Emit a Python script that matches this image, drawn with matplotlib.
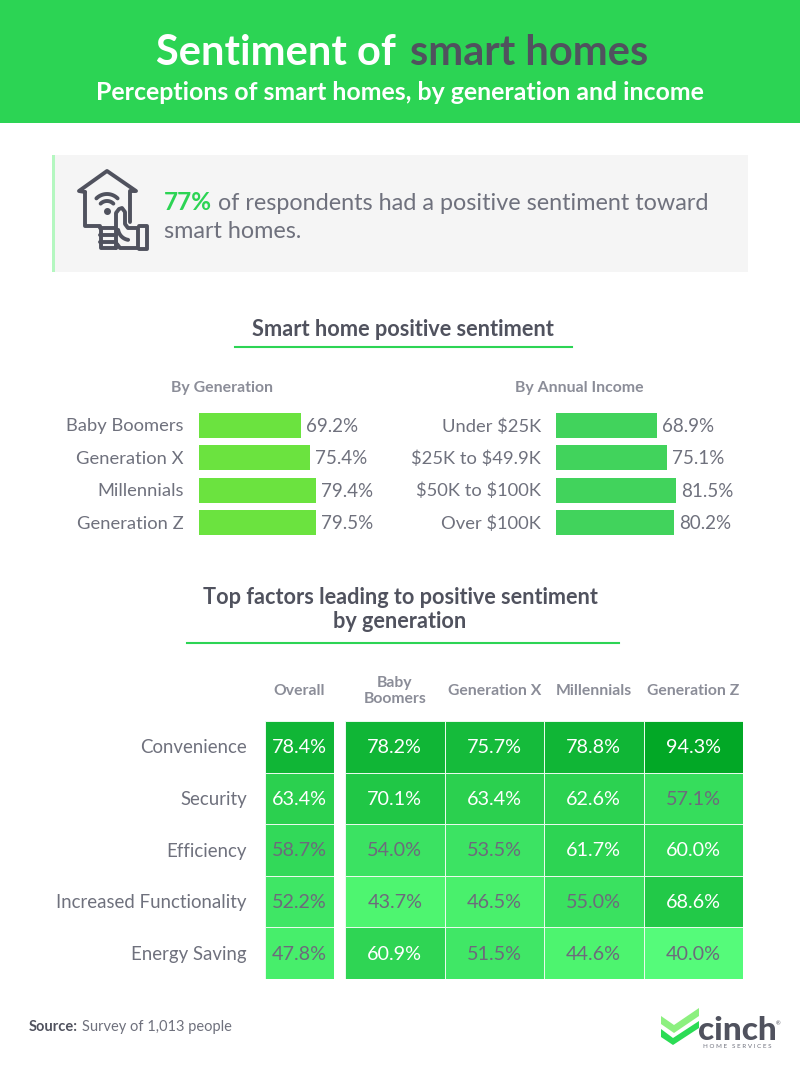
import matplotlib
matplotlib.use('Agg')
import matplotlib.pyplot as plt
from matplotlib.colors import LinearSegmentedColormap
from matplotlib.patches import Rectangle, Polygon
import numpy as np

plt.rcParams['font.family'] = ['Lato', 'DejaVu Sans']
plt.rcParams['text.parse_math'] = False

W, H = 800, 1070
GREEN = '#2cd454'
DARK = '#50525e'
GRAY = '#6f717d'
HEAD = '#8b8d98'

gen_labels = ['Baby Boomers', 'Generation X', 'Millennials', 'Generation Z']
gen_values = [69.2, 75.4, 79.4, 79.5]
inc_labels = ['Under $25K', '$25K to $49.9K', '$50K to $100K', 'Over $100K']
inc_values = [68.9, 75.1, 81.5, 80.2]

factors = ['Convenience', 'Security', 'Efficiency', 'Increased Functionality', 'Energy Saving']
overall = [78.4, 63.4, 58.7, 52.2, 47.8]
boomers = [78.2, 70.1, 54.0, 43.7, 60.9]
gen_x = [75.7, 63.4, 53.5, 46.5, 51.5]
millennials = [78.8, 62.6, 61.7, 55.0, 44.6]
gen_z = [94.3, 57.1, 60.0, 68.6, 40.0]
col_heads = ['Baby\nBoomers', 'Generation X', 'Millennials', 'Generation Z']

heat = LinearSegmentedColormap.from_list('heat', [
    (0.0, '#55fb7a'), (0.07, '#4ef570'), (0.26, '#3be262'), (0.38, '#2fd655'),
    (0.43, '#2bd04f'), (0.56, '#1fc645'), (0.71, '#10b636'), (1.0, '#02a826')])


def px_axes(x0, y0, x1, y1):
    return fig.add_axes([x0 / W, 1 - y1 / H, (x1 - x0) / W, (y1 - y0) / H])


fig = plt.figure(figsize=(8, 10.7), dpi=100)

# page background, pixel coords
bg = px_axes(0, 0, W, H)
bg.set_xlim(0, W)
bg.set_ylim(H, 0)
bg.axis('off')

bg.add_patch(Rectangle((0, 0), W, 123, color=GREEN, lw=0))
t1 = bg.text(156, 53, 'Sentiment of', color='white', fontsize=30, fontweight='bold', va='center')
fig.canvas.draw()
ext = t1.get_window_extent()
bg.text(ext.x1 + 14, 53, 'smart homes', color=DARK, fontsize=30, fontweight='bold', va='center')
bg.text(400, 92, 'Perceptions of smart homes, by generation and income', color='white',
        fontsize=17.9, fontweight='bold', ha='center', va='center')

# callout box
bg.add_patch(Rectangle((52, 155), 696, 117, color='#f5f5f5', lw=0))
bg.add_patch(Rectangle((52, 155), 3, 117, color='#b4f7c0', lw=0))
t2 = bg.text(164, 203, '77%', color=GREEN, fontsize=17.5, fontweight='bold', va='center')
fig.canvas.draw()
bg.text(t2.get_window_extent().x1 + 6, 203, 'of respondents had a positive sentiment toward',
        color=GRAY, fontsize=16.8, va='center')
bg.text(164, 232, 'smart homes.', color=GRAY, fontsize=16.8, va='center')

# icon: house, wifi, thumb
ic = dict(color=DARK, lw=2.8, solid_capstyle='round', solid_joinstyle='round')
bg.plot([85, 79, 107, 136, 130, 130], [192, 191, 171, 191, 191, 222], **ic)
bg.plot([85, 85, 100], [192, 226, 226], **ic)
th = np.linspace(np.pi * 1.25, np.pi * 1.75, 20)
bg.plot(107 + 15 * np.cos(th), 209 + 15 * np.sin(th), **ic)
bg.plot(107 + 9 * np.cos(th), 210 + 9 * np.sin(th), **ic)
bg.plot([107], [211], 'o', color=DARK, ms=4)
bg.plot([116, 116, 119, 122, 125, 125, 128, 138, 138, 120, 117],
        [227, 213, 209, 208, 212, 224, 228, 228, 248, 248, 244], **ic)
bg.plot([139, 147, 147, 139], [226, 226, 249, 249], **ic)
bg.plot([100, 116, 116], [228, 228, 248], **ic)
bg.plot([101, 101, 116], [228, 248, 248], **ic)
bg.plot([100, 116], [235, 235], **ic)
bg.plot([100, 116], [242, 242], **ic)
cr = np.linspace(np.pi * 0.55, np.pi * 0.95, 12)
bg.plot(130 + 12 * np.cos(cr), 228 + 12 * np.sin(cr), **ic)

# section 1
bg.text(403, 329, 'Smart home positive sentiment', color=DARK, fontsize=15.7, fontweight='bold',
        ha='center', va='center')
bg.plot([235, 572], [347, 347], color=GREEN, lw=1.5)
bg.text(222, 388, 'By Generation', color=HEAD, fontsize=11.4, fontweight='bold', ha='center', va='center')
bg.text(579, 388, 'By Annual Income', color=HEAD, fontsize=11.4, fontweight='bold', ha='center', va='center')


def bars(x0, labels, values, colour):
    # 1.472 px per percentage point on the page
    ax = px_axes(x0, 409, x0 + 147.2, 539)
    ax.set_xlim(0, 100)
    ax.set_ylim(3.5, -0.5)
    ax.axis('off')
    ax.barh(range(4), values, height=0.77, color=colour)
    for i, v in enumerate(values):
        ax.annotate(f'{v}%', xy=(v, i), xytext=(5, -1), textcoords='offset pixels', color=GRAY,
                    fontsize=13.5, va='center', annotation_clip=False)
        ax.annotate(labels[i], xy=(0, i), xytext=(-15, -1), textcoords='offset pixels', color=GRAY,
                    fontsize=13.2, ha='right', va='center', annotation_clip=False)


bars(199, gen_labels, gen_values, '#6be33f')
bars(556, inc_labels, inc_values, '#41d35c')

# section 2
bg.text(400, 597, 'Top factors leading to positive sentiment', color=DARK, fontsize=15.6,
        fontweight='bold', ha='center', va='center')
bg.text(400, 621, 'by generation', color=DARK, fontsize=15.6, fontweight='bold', ha='center', va='center')
bg.plot([187, 619], [643, 643], color=GREEN, lw=1.5)


def heatmap(x0, x1, cols, heads):
    data = np.array(cols).T
    ax = px_axes(x0, 721, x1, 979)
    ax.pcolormesh(data, cmap=heat, vmin=40, vmax=94.3, edgecolors='#e8faec', linewidth=0.5)
    ax.set_ylim(5, 0)
    ax.axis('off')
    for r in range(data.shape[0]):
        for c in range(data.shape[1]):
            v = data[r, c]
            ax.annotate(f'{v:.1f}%', xy=(c + 0.5, r + 0.5), xytext=(0, -1), textcoords='offset pixels',
                        color='white' if v >= 60 else '#6d6a7c', fontsize=14.2, ha='center', va='center')
    for c, h in enumerate(heads):
        ax.annotate(h, xy=(c + 0.5, 0), xytext=(0, 30), textcoords='offset pixels', color=HEAD,
                    fontsize=11.3, fontweight='bold', ha='center', va='center', linespacing=1.25,
                    annotation_clip=False)
    return ax


left = heatmap(265, 334, [overall], ['Overall'])
heatmap(345, 743, [boomers, gen_x, millennials, gen_z], col_heads)
for r, f in enumerate(factors):
    left.annotate(f, xy=(0, r + 0.5), xytext=(-18, -1), textcoords='offset pixels', color=GRAY,
                  fontsize=13.4, ha='right', va='center', annotation_clip=False)

# footer
t3 = bg.text(29, 1027, 'Source:', color=DARK, fontsize=10.5, fontweight='bold', va='center')
fig.canvas.draw()
bg.text(t3.get_window_extent().x1 + 4, 1027, 'Survey of 1,013 people', color=GRAY, fontsize=10.5, va='center')

# logo
bg.add_patch(Polygon([(661, 1016), (661, 1029), (673, 1038), (699, 1021), (699, 1028), (673, 1045),
                      (661, 1037)], color='#2bdc55', lw=0))
bg.add_patch(Polygon([(661, 1016), (674, 1025), (699, 1008), (699, 1016), (674, 1033), (661, 1024)],
                     color='#8cf07f', lw=0))
bg.text(698, 1030, 'cinch', color=DARK, fontsize=24, fontweight='black', va='center')
bg.text(776, 1024, '®', color=DARK, fontsize=4, va='center')
bg.text(737, 1046, 'H O M E   S E R V I C E S', color=GRAY, fontsize=4.5, ha='center', va='center')

fig.savefig('out.png', dpi=100)
